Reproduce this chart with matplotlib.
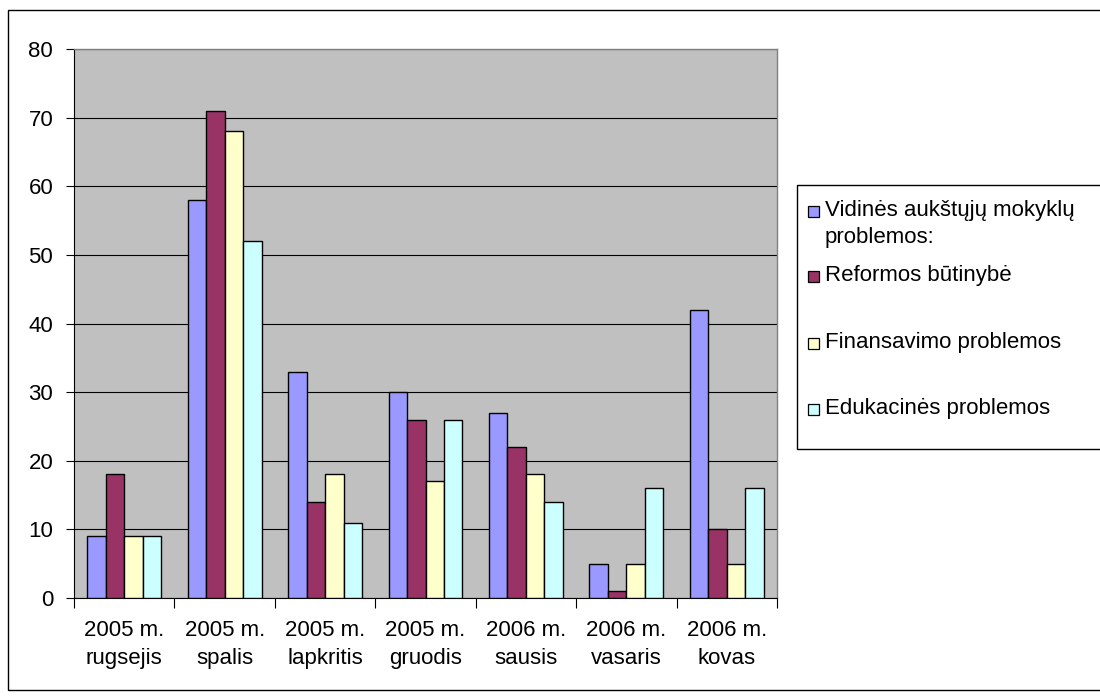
import numpy as np
import matplotlib
matplotlib.use("Agg")
import matplotlib.pyplot as plt
from matplotlib.patches import Rectangle

plt.rcParams['font.family'] = ['Liberation Sans', 'DejaVu Sans']

# data
months = ["2005 m.\nrugsejis", "2005 m.\nspalis", "2005 m.\nlapkritis", "2005 m.\ngruodis",
          "2006 m.\nsausis", "2006 m.\nvasaris", "2006 m.\nkovas"]
series = ["Vidinės aukštųjų mokyklų\nproblemos:", "Reformos būtinybė",
          "Finansavimo problemos", "Edukacinės problemos"]
vidines = [9, 58, 33, 30, 27, 5, 42]
reformos = [18, 71, 14, 26, 22, 1, 10]
finansavimo = [9, 68, 18, 17, 18, 5, 5]
edukacines = [9, 52, 11, 26, 14, 16, 16]
colors = ['#9999FF', '#993366', '#FFFFCC', '#CCFFFF']

W, H = 1100, 697
fig = plt.figure(figsize=(11, 6.97), dpi=100)

def fx(px):
    return px / W

def fy(py):
    return 1 - py / H

# outer chart border
fig.patches.append(Rectangle((fx(8), fy(690)), fx(1120) - fx(8), fy(10) - fy(690),
                             transform=fig.transFigure, fill=False, edgecolor='black',
                             linewidth=1.0, clip_on=False))

ax = fig.add_axes([fx(74), fy(598), fx(777) - fx(74), fy(49) - fy(598)])
ax.set_facecolor('#C0C0C0')

x = np.arange(len(months))
bw = 0.184
for i, vals in enumerate([vidines, reformos, finansavimo, edukacines]):
    ax.bar(x + (i - 1.5) * bw, vals, bw, color=colors[i], edgecolor='black',
           linewidth=1.0, zorder=3)

ax.set_xlim(-0.5, len(months) - 0.5)
ax.set_ylim(0, 80)
ax.set_yticks(range(0, 81, 10))
ax.yaxis.grid(True, color='black', linewidth=0.8, zorder=1)
ax.set_axisbelow(True)

ax.set_xticks(x)
ax.set_xticklabels(months, fontsize=16, linespacing=1.45)
ax.set_xticks(np.arange(-0.5, len(months), 1), minor=True)
ax.tick_params(axis='x', which='major', length=0, pad=16)
ax.tick_params(axis='x', which='minor', length=7, width=0.8, direction='out')
ax.tick_params(axis='y', length=6, width=0.8, direction='out', labelsize=16, pad=9)

for s in ['top', 'right']:
    ax.spines[s].set_color('#808080')
    ax.spines[s].set_linewidth(1.0)
for s in ['left', 'bottom']:
    ax.spines[s].set_color('black')
    ax.spines[s].set_linewidth(0.8)

# legend, drawn by hand to follow the original spacing
fig.patches.append(Rectangle((fx(797), fy(449)), fx(1120) - fx(797), fy(185) - fy(449),
                             transform=fig.transFigure, fill=True, facecolor='white',
                             edgecolor='black', linewidth=1.0, clip_on=False))
leg_y = [211, 276, 343, 409]
for i, name in enumerate(series):
    fig.patches.append(Rectangle((fx(808), fy(leg_y[i] + 6)), fx(11), fy(0) - fy(11),
                                 transform=fig.transFigure, facecolor=colors[i],
                                 edgecolor='black', linewidth=0.9))
    fig.text(fx(825), fy(leg_y[i] - 11), name, fontsize=16, va='top', ha='left',
             linespacing=1.4)

fig.savefig("out.png", dpi=100)
